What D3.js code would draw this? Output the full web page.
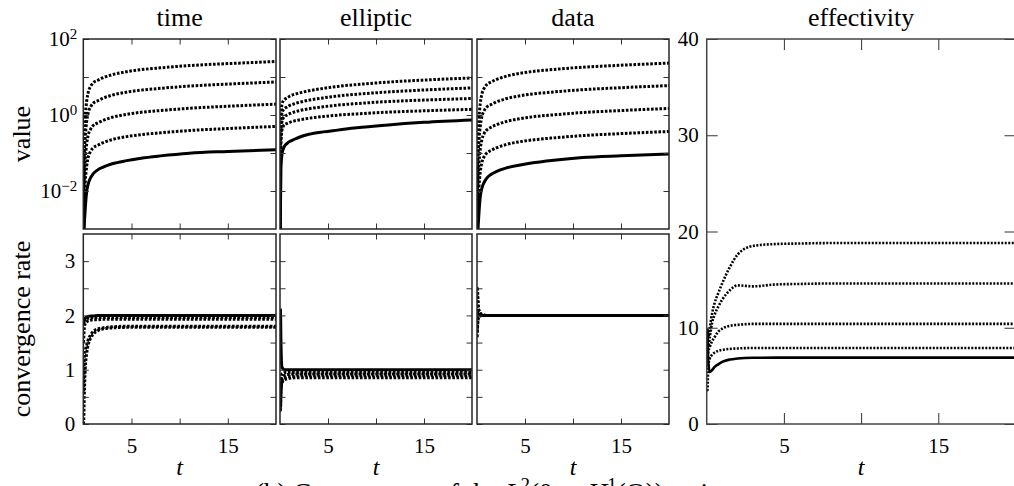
<!DOCTYPE html>
<html><head><meta charset="utf-8">
<script src="https://cdn.jsdelivr.net/npm/d3@7"></script>
<style>
body{margin:0;background:#fff;overflow:hidden}
svg{display:block}
text{font-family:"Liberation Serif","Times New Roman",serif;fill:#000}
</style>
</head><body>
<svg id="c" width="1014" height="486"></svg>
<script>
// ---------- data ----------
const T = [0.02, 0.05, 0.1, 0.2, 0.35, 0.5, 0.75, 1, 1.5, 2, 3, 4.5, 6, 8, 11, 15, 20];

const panelTitles = ["time", "elliptic", "data", "effectivity"];
const xTicks = [5, 10, 15];
const xTickLabels = ["5", "", "15"];
const logTicks = [1e2, 1e1, 1e0, 1e-1, 1e-2];
const logTickLabels = ["2", "", "0", "", "\u22122"];
const rateTicks = [0.5, 1, 1.5, 2, 2.5, 3];
const rateTickLabels = ["", "1", "", "2", "", "3"];
const effTicks = [10, 20, 30, 40];
const effTickLabels = ["10", "20", "30", "40"];

// value (top row)
const timeS  = [0.0002, 0.0005, 0.0012, 0.0033, 0.0095, 0.015, 0.022, 0.028, 0.036, 0.042, 0.052, 0.063, 0.073, 0.084, 0.099, 0.110, 0.122];
const timeD1 = [0.0005, 0.1, 0.31, 0.9, 2.3, 3.84, 5.63, 6.91, 8.19, 9.47, 11.5, 13.8, 15.6, 17.4, 20.0, 22.5, 25.6];
const timeD2 = [0.0003, 0.03, 0.089, 0.26, 0.67, 1.11, 1.63, 2.0, 2.37, 2.74, 3.33, 4.0, 4.51, 5.03, 5.77, 6.51, 7.4];
const timeD3 = [0.0002, 0.0077, 0.023, 0.068, 0.174, 0.29, 0.42, 0.52, 0.62, 0.71, 0.87, 1.04, 1.18, 1.31, 1.5, 1.7, 1.93];
const timeD4 = [0.0001, 0.002, 0.006, 0.0175, 0.045, 0.075, 0.11, 0.135, 0.16, 0.185, 0.225, 0.27, 0.305, 0.34, 0.39, 0.44, 0.50];

const ellS  = [0.0005, 0.004, 0.04, 0.09, 0.13, 0.155, 0.18, 0.2, 0.23, 0.26, 0.31, 0.36, 0.40, 0.46, 0.54, 0.64, 0.74];
const ellD1 = [0.001, 0.19, 0.94, 1.89, 2.36, 2.6, 2.83, 3.12, 3.49, 3.78, 4.34, 5.0, 5.66, 6.32, 7.27, 8.31, 9.44];
const ellD2 = [0.001, 0.12, 0.55, 1.1, 1.38, 1.5, 1.62, 1.78, 1.98, 2.15, 2.46, 2.82, 3.17, 3.52, 4.0, 4.55, 5.17];
const ellD3 = [0.0008, 0.07, 0.33, 0.66, 0.84, 0.93, 1.0, 1.08, 1.2, 1.3, 1.46, 1.65, 1.82, 2.0, 2.24, 2.47, 2.72];
const ellD4 = [0.0005, 0.04, 0.2, 0.4, 0.51, 0.57, 0.6, 0.64, 0.7, 0.74, 0.82, 0.91, 0.99, 1.07, 1.18, 1.29, 1.41];

const dataS  = [0.0001, 0.0004, 0.0009, 0.0025, 0.0073, 0.0116, 0.017, 0.0216, 0.0277, 0.0323, 0.04, 0.0485, 0.0562, 0.0647, 0.0762, 0.0847, 0.094];
const dataD1 = [0.0005, 0.093, 0.28, 0.81, 2.09, 3.48, 5.1, 6.26, 7.42, 8.58, 10.4, 12.5, 14.2, 15.8, 18.1, 20.4, 23.2];
const dataD2 = [0.0003, 0.024, 0.071, 0.21, 0.53, 0.89, 1.31, 1.6, 1.9, 2.2, 2.67, 3.21, 3.62, 4.04, 4.63, 5.23, 5.94];
const dataD3 = [0.0002, 0.006, 0.018, 0.052, 0.134, 0.22, 0.33, 0.40, 0.48, 0.55, 0.67, 0.80, 0.91, 1.01, 1.16, 1.31, 1.49];
const dataD4 = [0.0001, 0.0015, 0.0044, 0.0129, 0.033, 0.055, 0.081, 0.099, 0.118, 0.136, 0.166, 0.199, 0.224, 0.25, 0.287, 0.324, 0.368];

// convergence rate (bottom row)
const timeRateS = [1.85, 1.85, 1.9, 1.95, 1.97, 1.98, 1.99, 1.99, 2.0, 2.0, 2.0, 2.0, 2.0, 2.0, 2.0, 2.0, 2.0];
const timeRate1 = [1.9, 1.9, 1.92, 1.94, 1.95, 1.95, 1.96, 1.96, 1.96, 1.96, 1.96, 1.96, 1.96, 1.96, 1.96, 1.96, 1.96];
const timeRate2 = [1.5, 1.6, 1.75, 1.85, 1.88, 1.9, 1.91, 1.92, 1.92, 1.93, 1.93, 1.93, 1.93, 1.93, 1.93, 1.93, 1.93];
const timeRate3 = [0.6, 0.8, 1.2, 1.35, 1.45, 1.55, 1.64, 1.7, 1.75, 1.77, 1.79, 1.8, 1.8, 1.8, 1.8, 1.8, 1.8];
const timeRate4 = [0.0, 0.1, 0.5, 1.0, 1.3, 1.45, 1.58, 1.65, 1.72, 1.75, 1.77, 1.78, 1.78, 1.78, 1.78, 1.78, 1.78];

const ellRateS = [2.12, 2.1, 1.5, 1.05, 1.01, 1.0, 1.0, 1.0, 1.0, 1.0, 1.0, 1.0, 1.0, 1.0, 1.0, 1.0, 1.0];
const ellRate1 = [0.5, 0.6, 0.85, 0.92, 0.94, 0.95, 0.95, 0.95, 0.95, 0.95, 0.95, 0.95, 0.95, 0.95, 0.95, 0.95, 0.95];
const ellRate2 = [0.35, 0.4, 0.7, 0.85, 0.88, 0.9, 0.91, 0.92, 0.92, 0.92, 0.92, 0.92, 0.92, 0.92, 0.92, 0.92, 0.92];
const ellRate3 = [0.25, 0.25, 0.55, 0.78, 0.84, 0.86, 0.87, 0.88, 0.88, 0.89, 0.89, 0.89, 0.89, 0.89, 0.89, 0.89, 0.89];
const ellRate4 = [0.3, 0.3, 0.6, 0.75, 0.8, 0.82, 0.83, 0.84, 0.85, 0.85, 0.85, 0.85, 0.85, 0.85, 0.85, 0.85, 0.85];

const dataRateS = [2.05, 2.05, 2.03, 2.02, 2.01, 2.0, 2.0, 2.0, 2.0, 2.0, 2.0, 2.0, 2.0, 2.0, 2.0, 2.0, 2.0];
const dataRate1 = [2.5, 2.5, 2.3, 2.1, 2.05, 2.02, 2.01, 2.0, 2.0, 2.0, 2.0, 2.0, 2.0, 2.0, 2.0, 2.0, 2.0];
const dataRate2 = [2.35, 2.35, 2.2, 2.08, 2.03, 2.01, 2.0, 2.0, 2.0, 2.0, 2.0, 2.0, 2.0, 2.0, 2.0, 2.0, 2.0];
const dataRate3 = [1.6, 1.75, 1.9, 1.97, 1.99, 2.0, 2.0, 2.0, 2.0, 2.0, 2.0, 2.0, 2.0, 2.0, 2.0, 2.0, 2.0];
const dataRate4 = [1.7, 1.8, 1.95, 2.05, 2.02, 2.0, 2.0, 2.0, 2.0, 2.0, 2.0, 2.0, 2.0, 2.0, 2.0, 2.0, 2.0];

// effectivity
const effS  = [9.9, 9.8, 6.5, 5.4, 5.6, 5.9, 6.2, 6.45, 6.7, 6.8, 6.88, 6.9, 6.9, 6.9, 6.9, 6.9, 6.9];
const effD1 = [9.5, 9.5, 9.0, 10.0, 11.5, 12.5, 13.6, 14.6, 16.3, 17.6, 18.5, 18.7, 18.75, 18.8, 18.8, 18.8, 18.8];
const effD2 = [8.5, 8.5, 8.0, 9.0, 10.5, 11.3, 12.2, 12.9, 13.9, 14.4, 14.3, 14.5, 14.55, 14.6, 14.6, 14.6, 14.6];
const effD3 = [7.0, 7.0, 7.5, 8.0, 8.6, 9.0, 9.6, 9.9, 10.2, 10.3, 10.4, 10.4, 10.4, 10.4, 10.4, 10.4, 10.4];
const effD4 = [3.5, 3.5, 6.0, 6.8, 7.2, 7.4, 7.6, 7.7, 7.8, 7.85, 7.9, 7.9, 7.9, 7.9, 7.9, 7.9, 7.9];

// ---------- layout ----------
const svg = d3.select("#c");
const TOP0 = 39, TOP1 = 229, BOT0 = 234, BOT1 = 424;
const colX = [[83.3, 276], [280, 472], [477, 669]];
const effX = [706.7, 1015.5];

const valueSeries = [[timeS, timeD1, timeD2, timeD3, timeD4],
                     [ellS, ellD1, ellD2, ellD3, ellD4],
                     [dataS, dataD1, dataD2, dataD3, dataD4]];
const rateSeries = [[timeRateS, timeRate1, timeRate2, timeRate3, timeRate4],
                    [ellRateS, ellRate1, ellRate2, ellRate3, ellRate4],
                    [dataRateS, dataRate1, dataRate2, dataRate3, dataRate4]];
const effSeries = [effS, effD1, effD2, effD3, effD4];

let clipId = 0;
function panel(x, y, series, opt) {
  const [x0, x1] = x.range();
  const [y1, y0] = y.range();
  const id = "clip" + (clipId++);
  svg.append("clipPath").attr("id", id).append("rect")
    .attr("x", x0).attr("y", y0).attr("width", x1 - x0).attr("height", y1 - y0);
  const g = svg.append("g").attr("clip-path", `url(#${id})`);
  const line = d3.line().x((d, i) => x(T[i])).y(d => y(d)).curve(d3.curveMonotoneX);
  series.forEach((s, i) => {
    g.append("path").attr("d", line(s)).attr("fill", "none")
      .attr("stroke", "#000")
      .attr("stroke-width", opt.lw)
      .attr("stroke-dasharray", i === 0 ? null : opt.dash)
      .attr("stroke-linejoin", "round");
  });
  const tk = opt.tick;
  const axStyle = sel => {
    sel.select(".domain").remove();
    sel.selectAll(".tick line").attr("stroke", "#333").attr("stroke-width", 1);
    sel.selectAll("text").attr("font-family", null).attr("font-size", null)
      .style("font-size", opt.tickFont + "px");
  };
  svg.append("g").attr("transform", `translate(0,${y1})`)
    .call(d3.axisBottom(x).tickValues(xTicks).tickSize(-tk).tickPadding(14)
      .tickFormat((d, i) => opt.xLabels ? xTickLabels[i] : ""))
    .call(axStyle);
  svg.append("g").attr("transform", `translate(0,${y0})`)
    .call(d3.axisTop(x).tickValues(xTicks).tickSize(-tk).tickFormat(""))
    .call(axStyle);
  const left = d3.axisLeft(y).tickValues(opt.yTicks).tickSize(-tk).tickPadding(opt.yPad)
    .tickFormat((d, i) => opt.yLabels ? opt.yTickLabels[i] : "");
  const lg = svg.append("g").attr("transform", `translate(${x0},0)`).call(left).call(axStyle);
  if (opt.log && opt.yLabels) {
    lg.selectAll(".tick text").each(function(d, i) {
      const e = logTickLabels[i];
      const t = d3.select(this);
      if (!e) { t.text(""); return; }
      t.text("10");
      t.append("tspan").attr("dy", "-0.5em").style("font-size", "15px").text(e);
    });
  }
  svg.append("g").attr("transform", `translate(${x1},0)`)
    .call(d3.axisRight(y).tickValues(opt.yTicks).tickSize(-tk).tickFormat(""))
    .call(axStyle);
  svg.append("rect").attr("x", x0).attr("y", y0).attr("width", x1 - x0).attr("height", y1 - y0)
    .attr("fill", "none").attr("stroke", opt.frame).attr("stroke-width", 1.5);
}

colX.forEach((cx, c) => {
  const x = d3.scaleLinear([0, 20], cx);
  const yv = d3.scaleLog([1e-3, 1e2], [TOP1, TOP0]);
  panel(x, yv, valueSeries[c], {lw: 3, dash: "2.6,1.6", tick: 5.5, tickFont: 21, xLabels: false,
    yTicks: logTicks, yTickLabels: logTickLabels, yLabels: c === 0, yPad: 6, log: true, frame: "#262626"});
  const yr = d3.scaleLinear([0, 3.5], [BOT1, BOT0]);
  panel(x, yr, rateSeries[c], {lw: 3, dash: "2.6,1.6", tick: 5.5, tickFont: 21, xLabels: true,
    yTicks: [0].concat(rateTicks), yTickLabels: ["0"].concat(rateTickLabels), yLabels: c === 0, yPad: 8, log: false, frame: "#262626"});
  svg.append("text").attr("x", (cx[0] + cx[1]) / 2).attr("y", 26).attr("text-anchor", "middle")
    .style("font-size", "26px").text(panelTitles[c]);
  svg.append("text").attr("x", (cx[0] + cx[1]) / 2).attr("y", 475).attr("text-anchor", "middle")
    .style("font-size", "24px").style("font-style", "italic").text("t");
});

{
  const x = d3.scaleLinear([0, 20], effX);
  const y = d3.scaleLinear([0, 40], [BOT1, TOP0]);
  panel(x, y, effSeries, {lw: 2.6, dash: "2,1.5", tick: 11, tickFont: 21, xLabels: true,
    yTicks: [0].concat(effTicks), yTickLabels: ["0"].concat(effTickLabels), yLabels: true, yPad: 8, log: false, frame: "#444"});
  svg.append("text").attr("x", (effX[0] + effX[1]) / 2).attr("y", 26).attr("text-anchor", "middle")
    .style("font-size", "26px").text(panelTitles[3]);
  svg.append("text").attr("x", (effX[0] + effX[1]) / 2).attr("y", 475).attr("text-anchor", "middle")
    .style("font-size", "24px").style("font-style", "italic").text("t");
}

// y-axis labels
svg.append("text").attr("transform", `translate(30,${(TOP0 + TOP1) / 2}) rotate(-90)`)
  .attr("text-anchor", "middle").style("font-size", "26px").text("value");
svg.append("text").attr("transform", `translate(30,${(BOT0 + BOT1) / 2}) rotate(-90)`)
  .attr("text-anchor", "middle").style("font-size", "26px").text("convergence rate");

// caption (mostly below the visible area)
const cap = svg.append("text").attr("x", 513).attr("y", 502).attr("text-anchor", "middle").style("font-size", "27px");
cap.append("tspan").text("(b) Components of the ");
cap.append("tspan").style("font-style", "italic").text("L");
cap.append("tspan").attr("dy", -11).style("font-size", "19px").text("2");
cap.append("tspan").attr("dy", 11).text("(0, ");
cap.append("tspan").style("font-style", "italic").text("t");
cap.append("tspan").text("; ");
cap.append("tspan").style("font-style", "italic").text("H");
cap.append("tspan").attr("dy", -11).style("font-size", "19px").text("1");
cap.append("tspan").attr("dy", 11).text("(\u03A9)) estimator");
</script>
</body></html>
